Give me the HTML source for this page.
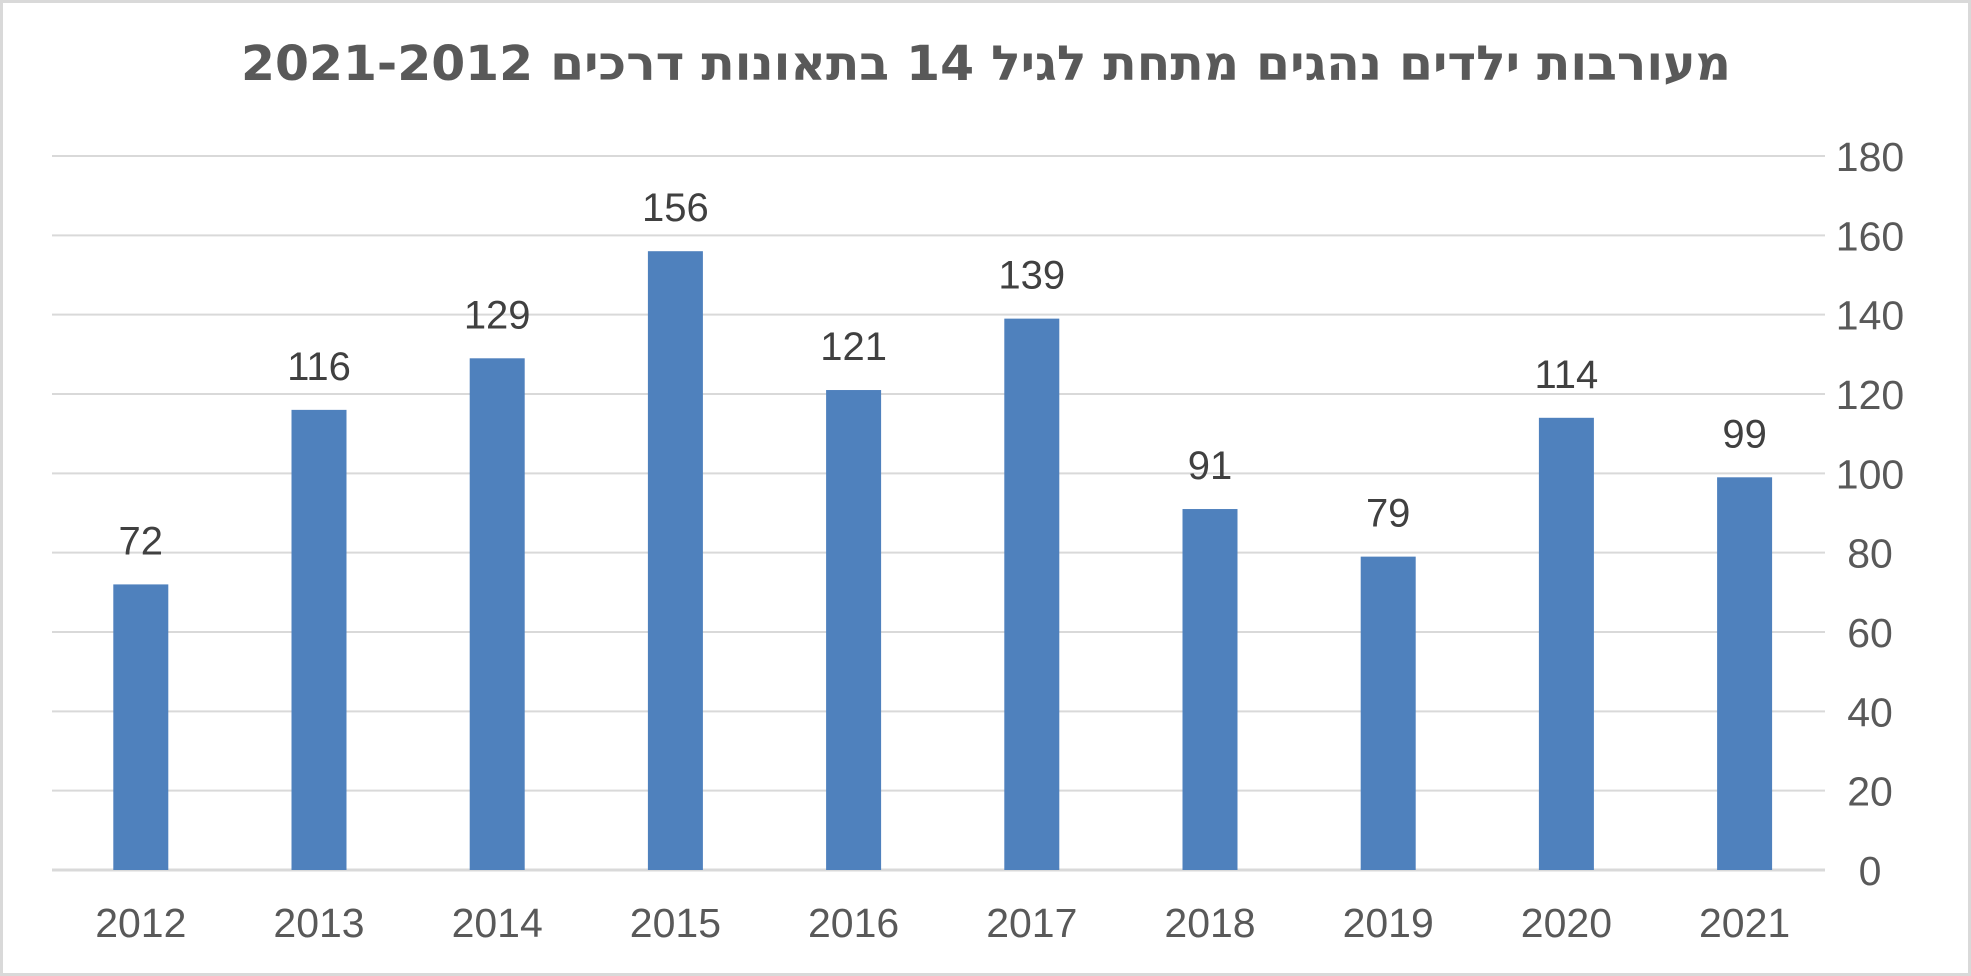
<!DOCTYPE html>
<html><head><meta charset="utf-8"><style>
html,body{margin:0;padding:0;background:#fff}
svg{display:block}
</style></head><body>
<svg id="chart" width="1971" height="976" xmlns="http://www.w3.org/2000/svg">
<rect x="1.5" y="1.5" width="1968" height="973" fill="#fff" stroke="#d9d9d9" stroke-width="3"/>
<text x="986" y="80" text-anchor="middle" font-family="'DejaVu Sans', sans-serif" font-weight="bold" font-size="48" fill="#595959" textLength="1490" lengthAdjust="spacingAndGlyphs" direction="rtl">מעורבות ילדים נהגים מתחת לגיל 14 בתאונות דרכים 2021-2012</text>
<g id="grid"></g><g id="bars"></g><g id="labels"></g>
</svg>
<script>
const categories=["2012","2013","2014","2015","2016","2017","2018","2019","2020","2021"];
const values=[72,116,129,156,121,139,91,79,114,99];
const yTicks=[0,20,40,60,80,100,120,140,160,180];
const NS="http://www.w3.org/2000/svg";
const y0=870,y180=156,left=52,right=1825,step=178.2,first=140.8,bw=55;
function y(v){return y0-(v/180)*(y0-y180);}
function x(i){return first+i*step;}
function mk(t,a,p,txt){const e=document.createElementNS(NS,t);for(const k in a)e.setAttribute(k,a[k]);if(txt!==undefined)e.textContent=txt;p.appendChild(e);return e;}
const g=document.getElementById('grid'),b=document.getElementById('bars'),l=document.getElementById('labels');
yTicks.forEach(t=>{
  const ln=mk('line',{x1:left,x2:right,y1:y(t),y2:y(t),stroke:'#d9d9d9','stroke-width':t===0?3:2},g);
  
  
  const tx=mk('text',{x:1870,y:y(t)+15,'text-anchor':'middle','font-family':'Liberation Sans, sans-serif','font-size':41,fill:'#595959'},g,String(t));
  
  
});
values.forEach((v,i)=>{
  const r=mk('rect',{x:x(i)-bw/2,y:y(v),width:bw,height:y0-y(v),fill:'#4f81bd'},b);
  
  
  const vl=mk('text',{x:x(i),y:y(v)-30,'text-anchor':'middle','font-family':'Liberation Sans, sans-serif','font-size':40,fill:'#404040'},l,String(v));
  
  
  const cl=mk('text',{x:x(i),y:937,'text-anchor':'middle','font-family':'Liberation Sans, sans-serif','font-size':41,fill:'#595959'},l,categories[i]);
  
  
});
</script>
</body></html>
